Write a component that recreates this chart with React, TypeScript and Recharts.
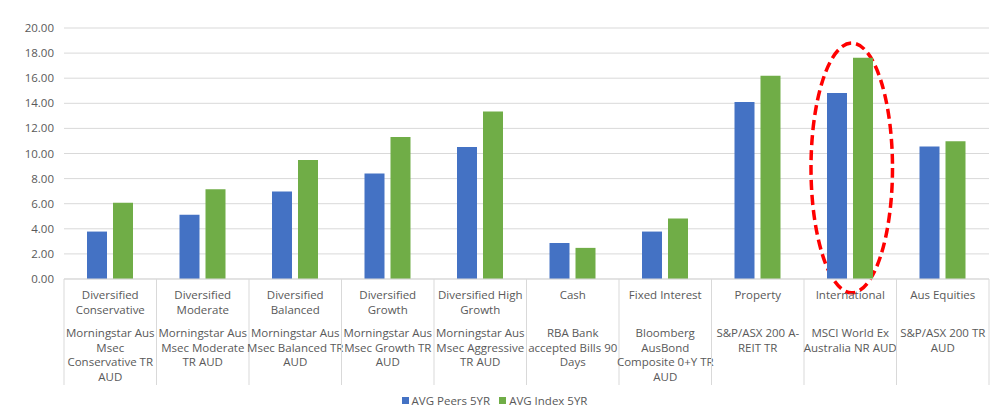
import React from "react"
import {
  Bar,
  BarChart,
  CartesianGrid,
  Legend,
  ReferenceArea,
  XAxis,
  YAxis,
} from "recharts"

// category headings (first block of the x-axis label)
const categories = [
  ["Diversified", "Conservative"],
  ["Diversified", "Moderate"],
  ["Diversified", "Balanced"],
  ["Diversified", "Growth"],
  ["Diversified High", "Growth"],
  ["Cash"],
  ["Fixed Interest"],
  ["Property"],
  ["International"],
  ["Aus Equities"],
]

// benchmark names (second block of the x-axis label)
const benchmarks = [
  ["Morningstar Aus", "Msec", "Conservative TR", "AUD"],
  ["Morningstar Aus", "Msec Moderate", "TR AUD"],
  ["Morningstar Aus", "Msec Balanced TR", "AUD"],
  ["Morningstar Aus", "Msec Growth TR", "AUD"],
  ["Morningstar Aus", "Msec Aggressive", "TR AUD"],
  ["RBA Bank", "accepted Bills 90", "Days"],
  ["Bloomberg", "AusBond", "Composite 0+Y TR", "AUD"],
  ["S&P/ASX 200 A-", "REIT TR"],
  ["MSCI World Ex", "Australia NR AUD"],
  ["S&P/ASX 200 TR", "AUD"],
]

const peers5yr = [3.78, 5.12, 6.98, 8.4, 10.52, 2.87, 3.78, 14.1, 14.82, 10.55]
const index5yr = [6.08, 7.15, 9.48, 11.32, 13.35, 2.48, 4.82, 16.2, 17.62, 10.98]

const yTicks = [0, 2, 4, 6, 8, 10, 12, 14, 16, 18, 20]

const highlight = "International"

const BLUE = "#4472C4"
const GREEN = "#70AD47"
const TEXT = "#595959"
const GRID = "#d9d9d9"
const FONT = "'Open Sans', 'Noto Sans', sans-serif"
const LABEL_SIZE = 11.5

const data = categories.map((c, i) => ({
  key: c.join(" "),
  peers: peers5yr[i],
  index: index5yr[i],
}))

function CategoryTick(props: any) {
  const { x, y, payload, index } = props
  const half = payload?.offset || 46.25
  const head = categories[index] || []
  const bench = benchmarks[index] || []
  const lineH = 14.5
  const left = x - half
  const right = x + half
  return (
    <g>
      <line x1={left} y1={y} x2={left} y2={y + 106} stroke={GRID} />
      {index === categories.length - 1 && (
        <line x1={right} y1={y} x2={right} y2={y + 106} stroke={GRID} />
      )}
      <text textAnchor="middle" fill={TEXT} fontSize={LABEL_SIZE} fontFamily={FONT}>
        {head.map((t, i) => (
          <tspan key={i} x={x} y={y + 20 + i * lineH}>{t}</tspan>
        ))}
      </text>
      <text textAnchor="middle" fill={TEXT} fontSize={LABEL_SIZE} fontFamily={FONT}>
        {bench.map((t, i) => (
          <tspan key={i} x={x} y={y + 58 + i * lineH}>{t}</tspan>
        ))}
      </text>
    </g>
  )
}

function DashedEllipse(props: any) {
  const { x, y, width, height } = props
  if (x == null || width == null) return null
  return (
    <ellipse
      cx={x + width / 2 + 1.5}
      cy={y + height / 2}
      rx={width / 2 - 5.5}
      ry={height / 2}
      fill="none"
      stroke="#FF0000"
      strokeWidth={3.5}
      strokeDasharray="10 5"
    />
  )
}

function LegendContent() {
  const items = [
    { label: "AVG Peers 5YR", color: BLUE },
    { label: "AVG Index 5YR", color: GREEN },
  ]
  return (
    <div style={{ display: "flex", justifyContent: "center", gap: 9, paddingTop: 4, fontFamily: FONT, fontSize: 11.5, color: TEXT }}>
      {items.map((it) => (
        <span key={it.label} style={{ display: "inline-flex", alignItems: "center" }}>
          <span style={{ width: 7, height: 7, background: it.color, display: "inline-block", marginRight: 3 }} />
          {it.label}
        </span>
      ))}
    </div>
  )
}

export default function App() {
  return (
    <div style={{ position: "absolute", left: 0, top: 0, width: 1000, height: 413, background: "#fff" }}>
      <BarChart
        width={1000}
        height={413}
        data={data}
        margin={{ top: 28, right: 11, bottom: 4, left: 0 }}
        barSize={20}
        barGap={6}
      >
        <CartesianGrid stroke={GRID} vertical={false} />
        <XAxis
          dataKey="key"
          interval={0}
          height={110}
          tickLine={false}
          tickSize={0}
          tickMargin={0}
          axisLine={{ stroke: GRID }}
          tick={<CategoryTick />}
        />
        <YAxis
          domain={[0, 20]}
          ticks={yTicks}
          width={64}
          axisLine={false}
          tickLine={false}
          tickMargin={4}
          tickFormatter={(v: number) => v.toFixed(2)}
          tick={{ fontSize: LABEL_SIZE, fill: TEXT, fontFamily: FONT }}
        />
        <Bar dataKey="peers" name="AVG Peers 5YR" fill={BLUE} isAnimationActive={false} />
        <Bar dataKey="index" name="AVG Index 5YR" fill={GREEN} isAnimationActive={false} />
        <ReferenceArea
          x1={highlight}
          x2={highlight}
          y1={-1.1}
          y2={18.8}
          ifOverflow="visible"
          shape={<DashedEllipse />}
        />
        <Legend verticalAlign="bottom" height={20} content={<LegendContent />} />
      </BarChart>
    </div>
  )
}
